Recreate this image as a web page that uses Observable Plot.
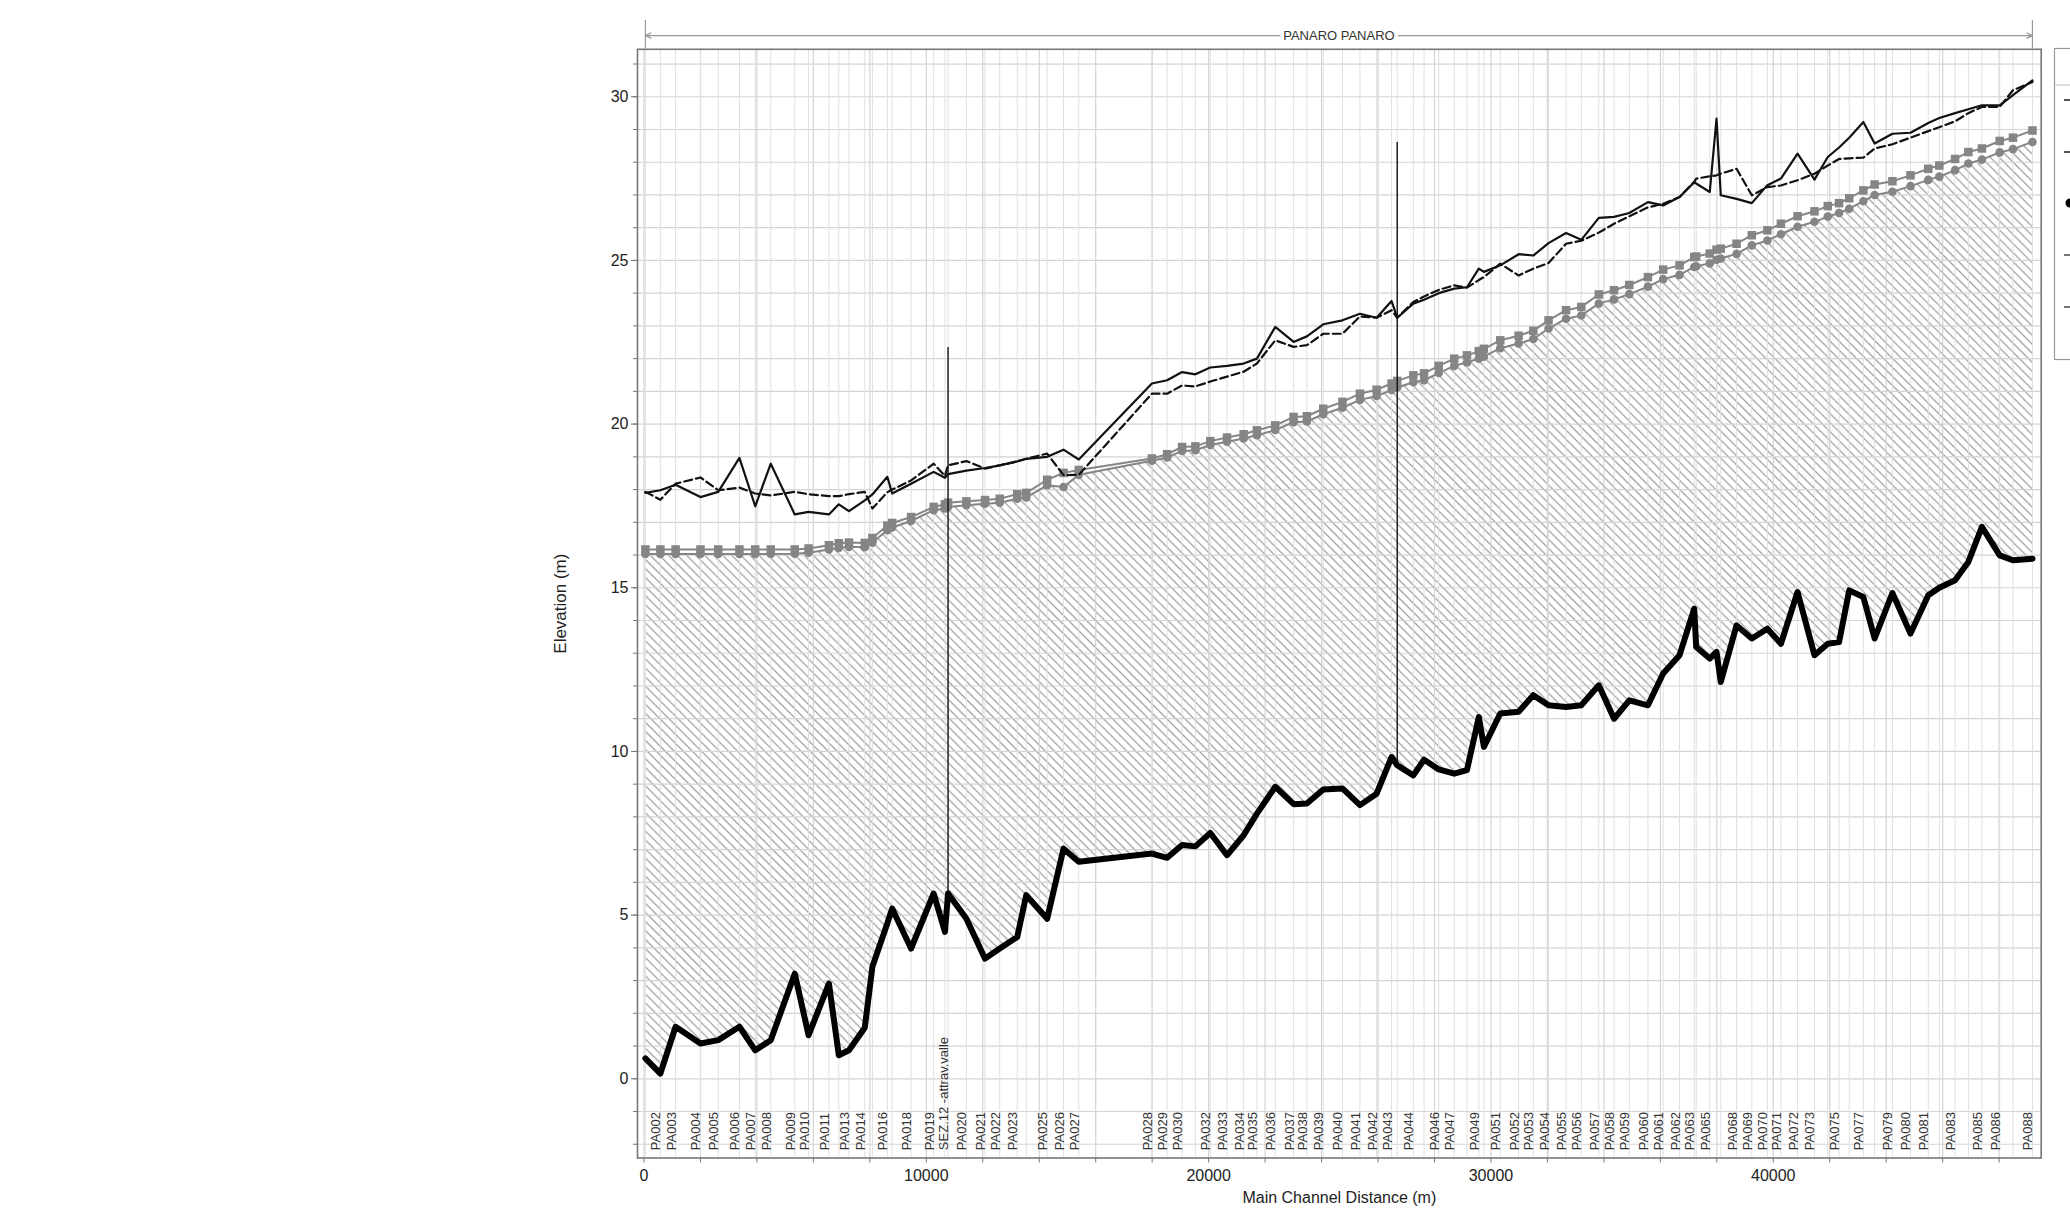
<!DOCTYPE html>
<html>
<head>
<meta charset="utf-8">
<script src="https://cdn.jsdelivr.net/npm/d3@7"></script>
<script src="https://cdn.jsdelivr.net/npm/@observablehq/plot@0.6"></script>
<style>
html, body { margin: 0; padding: 0; background: #fff; overflow: hidden; }
#chart { position: relative; width: 2070px; height: 1208px; overflow: hidden; }
</style>
</head>
<body>
<div id="chart"></div>
<script>
// ---- Data (main channel distance in m, elevations in m) ----
const stationX = [50,580,1120,2000,2630,3380,3940,4490,5340,5830,
  6550,6900,7260,7820,8090,8620,8790,9460,10260,10660,
  10770,11420,12080,12600,13220,13540,14280,14860,15400,17990,
  18530,19060,19530,20060,20650,21240,21710,22360,23010,23480,
  24060,24740,25360,25950,26480,26680,27250,27630,28150,28700,
  29150,29570,29750,30330,30980,31500,32040,32660,33200,33820,
  34360,34900,35560,36100,36680,37200,37270,37750,37990,38140,
  38700,39240,39790,40270,40860,41460,41930,42330,42690,43190,
  43590,44220,44860,45490,45880,46440,46910,47390,48020,48490,49180];

const stationLabel = ["","PA002","PA003","PA004","PA005","PA006","PA007","PA008","PA009","PA010",
  "PA011","","PA013","PA014","","PA016","","PA018","PA019","",
  "SEZ.12 -attrav.valle","PA020","PA021","PA022","PA023","","PA025","PA026","PA027","PA028",
  "PA029","PA030","","PA032","PA033","PA034","PA035","PA036","PA037","PA038",
  "PA039","PA040","PA041","PA042","PA043","","PA044","","PA046","PA047",
  "","PA049","","PA051","PA052","PA053","PA054","PA055","PA056","PA057",
  "PA058","PA059","PA060","PA061","PA062","PA063","","PA065","","",
  "PA068","PA069","PA070","PA071","PA072","PA073","","PA075","","PA077",
  "","PA079","PA080","PA081","","PA083","","PA085","PA086","","PA088"];

// water surface, profile 1 (solid)
const wsPF1 = [17.90,17.98,18.15,17.77,17.93,18.97,17.49,18.79,17.24,17.32,
  17.24,17.55,17.34,17.67,17.85,18.39,17.88,18.18,18.54,18.36,
  18.47,18.58,18.66,18.74,18.86,18.94,19.00,19.22,18.92,21.24,
  21.34,21.59,21.52,21.73,21.78,21.85,22.00,22.97,22.51,22.68,
  23.05,23.17,23.37,23.25,23.76,23.25,23.68,23.80,24.00,24.14,
  24.18,24.75,24.65,24.85,25.19,25.15,25.53,25.84,25.63,26.30,
  26.33,26.45,26.78,26.68,26.94,27.39,27.35,27.09,29.33,26.99,
  26.88,26.75,27.30,27.50,28.26,27.47,28.16,28.45,28.75,29.23,
  28.57,28.87,28.90,29.20,29.35,29.50,29.62,29.74,29.74,30.05,30.50];

// water surface, profile 2 (dashed)
const wsPF2 = [17.93,17.69,18.18,18.37,17.98,18.06,17.88,17.82,17.93,17.86,
  17.80,17.80,17.86,17.93,17.42,17.92,18.00,18.28,18.79,18.42,
  18.74,18.87,18.64,18.74,18.86,18.94,19.10,18.44,18.45,20.93,
  20.93,21.18,21.15,21.30,21.45,21.60,21.85,22.56,22.36,22.41,
  22.76,22.76,23.29,23.25,23.48,23.25,23.73,23.90,24.10,24.24,
  24.17,24.40,24.49,24.90,24.54,24.75,24.92,25.51,25.60,25.85,
  26.12,26.35,26.62,26.73,26.94,27.40,27.50,27.57,27.60,27.65,
  27.80,26.99,27.24,27.29,27.45,27.65,27.90,28.10,28.12,28.14,
  28.42,28.55,28.75,28.95,29.07,29.25,29.50,29.69,29.69,30.20,30.45];

// levee / bank lines (grey, with markers)
const leftLevee = [16.17,16.17,16.17,16.17,16.17,16.17,16.17,16.17,16.17,16.20,
  16.30,16.36,16.38,16.37,16.52,16.90,16.98,17.16,17.47,17.55,
  17.60,17.64,17.68,17.72,17.86,17.90,18.30,18.51,18.60,18.95,
  19.08,19.30,19.32,19.48,19.59,19.69,19.81,19.96,20.22,20.24,
  20.47,20.68,20.93,21.05,21.24,21.32,21.49,21.55,21.78,22.00,
  22.10,22.23,22.30,22.56,22.70,22.85,23.17,23.48,23.58,23.96,
  24.09,24.25,24.49,24.72,24.85,25.10,25.12,25.21,25.33,25.36,
  25.51,25.77,25.92,26.12,26.35,26.50,26.66,26.75,26.90,27.14,
  27.32,27.42,27.60,27.80,27.90,28.10,28.31,28.42,28.65,28.75,28.97];

const rightLevee = [16.03,16.03,16.03,16.03,16.03,16.03,16.03,16.03,16.04,16.07,
  16.17,16.22,16.25,16.24,16.38,16.76,16.84,17.04,17.37,17.42,
  17.47,17.52,17.57,17.60,17.72,17.76,18.13,18.08,18.45,18.88,
  18.98,19.18,19.20,19.36,19.46,19.56,19.66,19.82,20.06,20.08,
  20.30,20.50,20.74,20.86,21.04,21.12,21.28,21.34,21.56,21.78,
  21.88,22.00,22.06,22.32,22.46,22.60,22.92,23.22,23.32,23.68,
  23.81,23.97,24.20,24.43,24.56,24.80,24.82,24.91,25.02,25.06,
  25.20,25.46,25.61,25.80,26.03,26.18,26.34,26.45,26.58,26.81,
  27.00,27.10,27.27,27.46,27.56,27.76,27.96,28.08,28.30,28.40,28.62];

// channel bed (thick black)
const ground = [0.62,0.16,1.59,1.08,1.18,1.59,0.87,1.18,3.21,1.33,
  2.91,0.72,0.87,1.56,3.42,4.75,5.20,3.98,5.66,4.49,
  5.66,4.89,3.67,3.98,4.33,5.61,4.89,7.03,6.63,6.88,
  6.75,7.14,7.10,7.51,6.83,7.44,8.10,8.92,8.39,8.41,
  8.84,8.87,8.36,8.71,9.83,9.58,9.27,9.75,9.45,9.32,
  9.43,11.05,10.14,11.16,11.21,11.72,11.41,11.36,11.41,12.02,
  11.00,11.56,11.41,12.38,12.94,14.36,13.19,12.84,13.04,12.12,
  13.85,13.45,13.75,13.29,14.87,12.94,13.29,13.34,14.92,14.72,
  13.45,14.84,13.60,14.77,15.00,15.23,15.79,16.86,15.99,15.84,15.89];

// structures (vertical lines)
const structX = [10770, 26680];
const structBottom = [5.66, 9.58];
const structTop = [22.34, 28.60];

const reachName = "PANARO PANARO";
const yTickLabels = [0, 5, 10, 15, 20, 25, 30];
const xTickLabels = [0, 10000, 20000, 30000, 40000];

// ---- build table ----
const rows = stationX.map((x, i) => ({
  x, label: stationLabel[i], ws1: wsPF1[i], ws2: wsPF2[i],
  lev1: leftLevee[i], lev2: rightLevee[i], ground: ground[i]
}));
const structs = structX.map((x, i) => ({x, y1: structBottom[i], y2: structTop[i]}));

const yMin = -2.42, yMax = 31.45;
const xStart = stationX[0], xEnd = stationX[stationX.length - 1];
const xMid = (xStart + xEnd) / 2;
const yArrow = 31.87, yTickTop = 32.33, yTickBottom = 31.47;
const font = "'Liberation Sans', Arial, Helvetica, sans-serif";

const chart = Plot.plot({
  width: 2070,
  height: 1230,
  marginLeft: 637,
  marginRight: 29.3,
  marginTop: 48.8,
  marginBottom: 72.5,
  style: {fontFamily: font, background: "white", overflow: "visible"},
  x: {domain: [-230, 49490]},
  y: {domain: [yMin, yMax]},
  marks: [
    // hatched ground between bed and bank line
    Plot.areaY(rows, {x: "x", y1: yMin, y2: "lev2", fill: "url(#hatch)"}),
    Plot.areaY(rows, {x: "x", y1: yMin, y2: "ground", fill: "white"}),
    // grid
    Plot.ruleY(d3.range(-2, 32), {stroke: "#d4d4d4", strokeWidth: 1.2}),
    Plot.ruleX(d3.range(0, 49001, 2000), {stroke: "#d4d4d4", strokeWidth: 1.2}),
    Plot.ruleX(rows, {x: "x", stroke: "#e0e0e0", strokeWidth: 1}),
    Plot.frame({stroke: "#777", strokeWidth: 1.6}),
    // axes
    Plot.axisY(d3.range(-2, 32), {text: null, tickSize: 4, stroke: "#777", label: null}),
    Plot.axisY(yTickLabels, {tickSize: 6, tickPadding: 3, fontSize: 16, fill: "#222", stroke: "#777", label: null}),
    Plot.axisX(d3.range(0, 49001, 2000), {text: null, tickSize: 5, stroke: "#777", label: null}),
    Plot.axisX(xTickLabels, {tickSize: 0, tickPadding: 12, fontSize: 16, fill: "#222", tickFormat: d => String(d), label: null}),
    Plot.text(["Elevation (m)"], {text: d => d, frameAnchor: "left", dx: -77, rotate: -90, textAnchor: "middle", lineAnchor: "middle", fontSize: 17, fill: "#222"}),
    Plot.text(["Main Channel Distance (m)"], {text: d => d, frameAnchor: "bottom", dy: 34, lineAnchor: "top", fontSize: 16, fill: "#222"}),
    // levee lines with markers
    Plot.line(rows, {x: "x", y: "lev1", stroke: "#858585", strokeWidth: 2}),
    Plot.line(rows, {x: "x", y: "lev2", stroke: "#858585", strokeWidth: 2}),
    Plot.dot(rows, {x: "x", y: "lev1", symbol: "square", r: 4.8, fill: "#858585"}),
    Plot.dot(rows, {x: "x", y: "lev2", symbol: "circle", r: 4.3, fill: "#858585"}),
    // structures
    Plot.ruleX(structs, {x: "x", y1: "y1", y2: "y2", stroke: "#111", strokeWidth: 1.4}),
    // water surfaces
    Plot.line(rows, {x: "x", y: "ws2", stroke: "#111", strokeWidth: 2.2, strokeDasharray: "8,4"}),
    Plot.line(rows, {x: "x", y: "ws1", stroke: "#111", strokeWidth: 2.2}),
    // channel bed
    Plot.line(rows, {x: "x", y: "ground", stroke: "#000", strokeWidth: 6, strokeLinejoin: "round", strokeLinecap: "round"}),
    // station labels
    Plot.text(rows.filter(d => d.label), {x: "x", y: -2.18, text: "label", rotate: -90, textAnchor: "start", lineAnchor: "bottom", fontSize: 13, fill: "#333"}),
    // reach arrow on top
    Plot.ruleX([xStart, xEnd], {x: d => d, y1: yTickBottom, y2: yTickTop, stroke: "#999", strokeWidth: 1.2}),
    Plot.arrow([{a: xMid, b: xStart}, {a: xMid, b: xEnd}], {x1: "a", x2: "b", y1: yArrow, y2: yArrow, stroke: "#999", strokeWidth: 1.3, headLength: 7, headAngle: 50}),
    Plot.text([reachName], {text: d => d, x: xMid, y: yArrow, fontSize: 13, fill: "#333", stroke: "white", strokeWidth: 8})
  ]
});

document.getElementById("chart").appendChild(chart);

// hatch pattern definition
const svg = d3.select(chart);
svg.insert("defs", ":first-child").html(
  '<pattern id="hatch" patternUnits="userSpaceOnUse" width="6.4" height="6.4" patternTransform="rotate(-45)">' +
  '<rect width="6.4" height="6.4" fill="white"/>' +
  '<line x1="3.2" y1="0" x2="3.2" y2="6.4" stroke="#9c9c9c" stroke-width="1.2"/></pattern>');

// legend box (cut by the right edge of the picture, as in the reference)
const lg = svg.append("g");
lg.append("rect").attr("x", 2054.5).attr("y", 48.5).attr("width", 60).attr("height", 311)
  .attr("fill", "white").attr("stroke", "#999").attr("stroke-width", 1.2);
lg.append("line").attr("x1", 2054.5).attr("x2", 2070).attr("y1", 85).attr("y2", 85).attr("stroke", "#bbb");
[[100, "#555"], [152, "#555"], [255, "#777"], [307, "#777"]].forEach(([y, c]) =>
  lg.append("line").attr("x1", 2064).attr("x2", 2072).attr("y1", y).attr("y2", y)
    .attr("stroke", c).attr("stroke-width", 2));
lg.append("circle").attr("cx", 2070).attr("cy", 203).attr("r", 4.5).attr("fill", "#000");
</script>
</body>
</html>
